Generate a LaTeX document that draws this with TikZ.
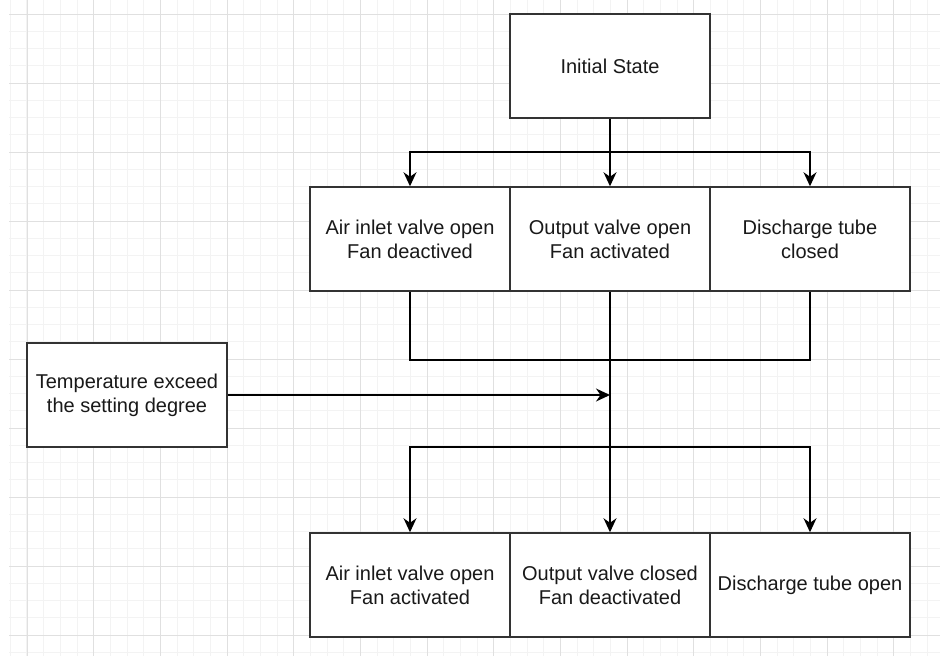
\documentclass[tikz,border=0pt]{standalone}
\usepackage{fontspec}
\setmainfont{Liberation Sans}
\usetikzlibrary{arrows.meta}
\definecolor{gmaj}{HTML}{E0E0E0}
\definecolor{gmin}{HTML}{F3F3F3}
\definecolor{edge}{HTML}{333333}
\begin{document}
\begin{tikzpicture}[x=1pt,y=-1pt,
  gridminor/.style={draw=gmin,line width=1pt},
  gridmajor/.style={draw=gmaj,line width=1pt},
  box/.style={draw=edge,fill=white,line width=1.5pt,minimum width=200pt,minimum height=104pt,inner sep=0pt,align=center,font=\fontsize{20}{24}\selectfont,text=black!90},
  conn/.style={draw=black,line width=1.5pt},
  arr/.style={conn,-{Stealth[length=14pt,width=13pt,inset=4.5pt]}}]
\useasboundingbox (0,0) rectangle (940,656);
\fill[white] (0,0) rectangle (940,656);
% grid
\foreach \i in {0,...,55}{
  \pgfmathsetmacro{\xx}{10.333+16.6667*\i}
  \draw[gridminor] (\xx,0) -- (\xx,656);
}
\foreach \j in {0,...,37}{
  \pgfmathsetmacro{\yy}{14+17.25*\j}
  \draw[gridminor] (9,\yy) -- (940,\yy);
}
\foreach \i in {0,...,13}{
  \pgfmathsetmacro{\xx}{27+66.6667*\i}
  \draw[gridmajor] (\xx,0) -- (\xx,656);
}
\foreach \j in {0,...,9}{
  \pgfmathsetmacro{\yy}{14+69*\j}
  \draw[gridmajor] (9,\yy) -- (940,\yy);
}
% nodes
\node[box] (init) at (610,66) {Initial State};
\node[box] (a1) at (410,239) {Air inlet valve open\\Fan deactived};
\node[box] (a2) at (610,239) {Output valve open\\Fan activated};
\node[box] (a3) at (810,239) {Discharge tube\\closed};
\node[box] (temp) at (127,395) {Temperature exceed\\the setting degree};
\node[box] (b1) at (410,585) {Air inlet valve open\\Fan activated};
\node[box] (b2) at (610,585) {Output valve closed\\Fan deactivated};
\node[box] (b3) at (810,585) {Discharge tube open};
\coordinate (j1) at (610,152);
\coordinate (m) at (610,360);
\coordinate (j2) at (610,447);
% connectors
\draw[arr] (init.south) -- (j1) -| (a1.north);
\draw[arr] (init.south) -- (a2.north);
\draw[arr] (init.south) -- (j1) -| (a3.north);
\draw[conn] (a1.south) |- (m);
\draw[conn] (a3.south) |- (m);
\draw[conn] (a2.south) -- (m);
\draw[arr] (temp.east) -- (temp.east -| m);
\draw[arr] (m) -- (j2) -| (b1.north);
\draw[arr] (m) -- (b2.north);
\draw[arr] (m) -- (j2) -| (b3.north);
\end{tikzpicture}
\end{document}
